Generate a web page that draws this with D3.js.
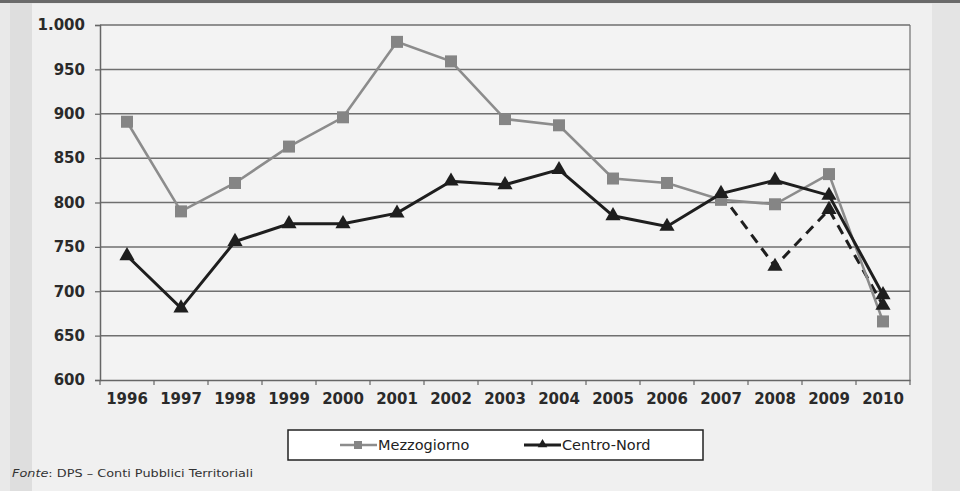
<!DOCTYPE html>
<html><head><meta charset="utf-8">
<script src="https://cdn.jsdelivr.net/npm/d3@7"></script>
<style>
html,body{margin:0;padding:0;background:#e6e6e6;}
svg{display:block;}
</style></head>
<body>
<svg id="c" width="960" height="491"></svg>
<script>
const years = ["1996","1997","1998","1999","2000","2001","2002","2003","2004","2005","2006","2007","2008","2009","2010"];
const mezzogiorno = [891, 790, 822, 863, 896, 981, 959, 894, 887, 827, 822, 803, 798, 832, 666];
const centroNord = [740, 681, 756, 776, 776, 788, 824, 820, 837, 785, 773, 810, 825, 808, 696];
const centroNordAlt = [null, null, null, null, null, null, null, null, null, null, null, 810, 728, 792, 684];
const yTicks = [600, 650, 700, 750, 800, 850, 900, 950, 1000];
const seriesNames = ["Mezzogiorno", "Centro-Nord"];
const sourceLabel = "DPS – Conti Pubblici Territoriali";

const svg = d3.select("#c");
// background strips (scan look)
svg.append("rect").attr("x",0).attr("y",0).attr("width",960).attr("height",491).attr("fill","#e9e9e9");
svg.append("rect").attr("x",10).attr("y",0).attr("width",22).attr("height",491).attr("fill","#dedede");
svg.append("rect").attr("x",32).attr("y",4).attr("width",900).attr("height",487).attr("fill","#f0f0f0");
svg.append("rect").attr("x",932).attr("y",0).attr("width",28).attr("height",491).attr("fill","#e4e4e4");
svg.append("rect").attr("x",0).attr("y",0).attr("width",960).attr("height",3).attr("fill","#6a6a6a");

const x = d3.scaleBand().domain(years).range([100, 910]).paddingInner(0).paddingOuter(0);
const y = d3.scaleLinear().domain([600, 1000]).range([380, 25]);
const cx = d => x(d) + x.bandwidth()/2;

// plot background
svg.append("rect").attr("x",100).attr("y",25).attr("width",810).attr("height",355).attr("fill","#f3f3f3");

// gridlines
svg.append("g").selectAll("line").data(yTicks.filter(t => t > 600)).join("line")
  .attr("x1",100).attr("x2",910).attr("y1",d=>y(d)).attr("y2",d=>y(d))
  .attr("stroke","#6f6f6f").attr("stroke-width",1.5);
// right border
svg.append("line").attr("x1",910).attr("x2",910).attr("y1",25).attr("y2",380).attr("stroke","#6f6f6f").attr("stroke-width",1.2);

// y axis
const yAxis = svg.append("g").attr("transform","translate(100,0)")
  .call(d3.axisLeft(y).tickValues(yTicks).tickSize(5).tickPadding(10)
    .tickFormat(d => d === 1000 ? "1.000" : d3.format("d")(d)));
yAxis.select(".domain").attr("stroke","#666").attr("stroke-width",1.5);
yAxis.selectAll(".tick line").attr("stroke","#666").attr("stroke-width",1.2);
yAxis.selectAll("text").attr("font-family","DejaVu Sans, Verdana, sans-serif").attr("font-weight","bold")
  .attr("font-size","15px").attr("fill","#2a2a2a");

// x axis
const xAxis = svg.append("g").attr("transform","translate(0,380)")
  .call(d3.axisBottom(x).tickSize(0).tickPadding(10));
xAxis.select(".domain").attr("stroke","#666").attr("stroke-width",1.5);
xAxis.selectAll("text").attr("font-family","DejaVu Sans, Verdana, sans-serif").attr("font-weight","bold")
  .attr("font-size","15px").attr("fill","#2a2a2a").attr("dy","0.9em");
// boundary ticks
const bounds = years.map(d => x(d)).concat([x(years[years.length-1]) + x.bandwidth()]);
svg.append("g").selectAll("line").data(bounds).join("line")
  .attr("x1",d=>d).attr("x2",d=>d).attr("y1",380).attr("y2",385)
  .attr("stroke","#666").attr("stroke-width",1.2);

const line = d3.line().defined(d => d.v !== null).x(d => cx(d.year)).y(d => y(d.v));
const toPts = arr => years.map((yr,i) => ({year: yr, v: arr[i]}));

// dashed alternative Centro-Nord
svg.append("path").datum(toPts(centroNordAlt)).attr("d", line)
  .attr("fill","none").attr("stroke","#1e1e1e").attr("stroke-width",3).attr("stroke-dasharray","10,7");

// Mezzogiorno
svg.append("path").datum(toPts(mezzogiorno)).attr("d", line)
  .attr("fill","none").attr("stroke","#8c8c8c").attr("stroke-width",2.6);
svg.append("g").selectAll("rect").data(toPts(mezzogiorno)).join("rect")
  .attr("x", d => cx(d.year)-6).attr("y", d => y(d.v)-6).attr("width",12).attr("height",12)
  .attr("fill","#858585");

// Centro-Nord
svg.append("path").datum(toPts(centroNord)).attr("d", line)
  .attr("fill","none").attr("stroke","#1e1e1e").attr("stroke-width",3);
const tri = d3.symbol().type(d3.symbolTriangle).size(100);
svg.append("g").selectAll("path").data(toPts(centroNord)).join("path")
  .attr("transform", d => `translate(${cx(d.year)},${y(d.v)})`).attr("d", tri).attr("fill","#1e1e1e");
svg.append("g").selectAll("path").data(toPts(centroNordAlt).filter((d,i) => d.v !== null && i > 11)).join("path")
  .attr("transform", d => `translate(${cx(d.year)},${y(d.v)})`).attr("d", tri).attr("fill","#1e1e1e");

// legend
const lg = svg.append("g");
lg.append("rect").attr("x",288).attr("y",430).attr("width",415).attr("height",30)
  .attr("fill","#ffffff").attr("stroke","#222").attr("stroke-width",1.5);
lg.append("line").attr("x1",340).attr("x2",377).attr("y1",445).attr("y2",445).attr("stroke","#8c8c8c").attr("stroke-width",2.6);
lg.append("rect").attr("x",354).attr("y",441).attr("width",8).attr("height",8).attr("fill","#858585");
lg.append("text").attr("x",378).attr("y",450).text(seriesNames[0])
  .attr("font-family","DejaVu Sans, Verdana, sans-serif").attr("font-size","14.5px").attr("fill","#222");
lg.append("line").attr("x1",524).attr("x2",561).attr("y1",445).attr("y2",445).attr("stroke","#1e1e1e").attr("stroke-width",3);
lg.append("path").attr("transform","translate(542.5,444.5)").attr("d", d3.symbol().type(d3.symbolTriangle).size(40)()).attr("fill","#1e1e1e");
lg.append("text").attr("x",562).attr("y",450).text(seriesNames[1])
  .attr("font-family","DejaVu Sans, Verdana, sans-serif").attr("font-size","14.5px").attr("fill","#222");

// source
const src = svg.append("text").attr("x",12).attr("y",477)
  .attr("font-family","DejaVu Sans, sans-serif").attr("font-size","11px").attr("fill","#333")
  .attr("textLength",241).attr("lengthAdjust","spacingAndGlyphs");
src.append("tspan").attr("font-style","italic").text("Fonte");
src.append("tspan").text(": " + sourceLabel);
</script>
</body></html>
